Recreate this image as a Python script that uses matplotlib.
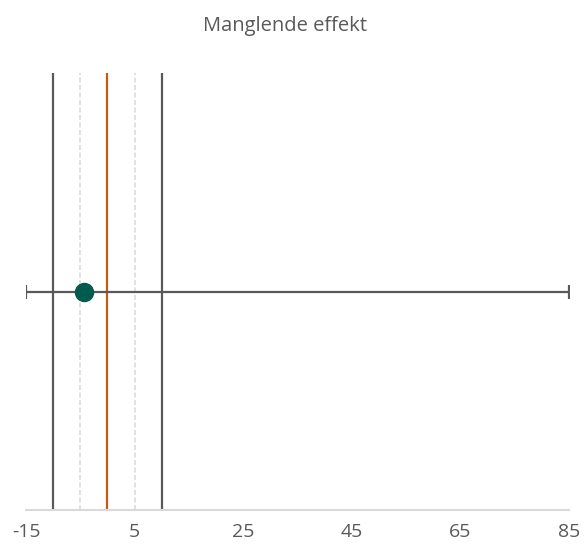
import matplotlib.pyplot as plt

title = "Manglende effekt"
estimate = -4.4
ci_low, ci_high = -15, 85
solid_lines = [-10, 10]
dashed_lines = [-5, 5]
ref_line = 0
xticks = [-15, 5, 25, 45, 65, 85]

plt.rcParams['font.family'] = ['Open Sans', 'DejaVu Sans']

fig = plt.figure(figsize=(5.85, 5.49), dpi=100)
ax = fig.add_axes([0.0445, 0.071, 0.928, 0.796])

for v in solid_lines:
    ax.axvline(v, color='#595959', lw=1.6, zorder=2)
for v in dashed_lines:
    ax.axvline(v, color='#dcdcdc', lw=1.2, ls=(0, (3, 1.5)), zorder=1)
ax.axvline(ref_line, color='#c55a11', lw=1.6, zorder=2)

ax.errorbar([estimate], [0.5], xerr=[[estimate - ci_low], [ci_high - estimate]],
            fmt='o', color='#005a4e', ms=13, mec='#005a4e', ecolor='#595959',
            elinewidth=1.6, capsize=5, capthick=1.6, zorder=3)

ax.set_xlim(-15, 85)
ax.set_ylim(0, 1)
ax.set_xticks(xticks)
ax.set_xticklabels([str(t) for t in xticks])
ax.set_yticks([])
ax.tick_params(axis='x', length=0, pad=9, labelsize=14, labelcolor='#595959')
for s in ['top', 'right', 'left']:
    ax.spines[s].set_visible(False)
ax.spines['bottom'].set_color('#d9d9d9')
ax.spines['bottom'].set_linewidth(1.5)

fig.text(0.487, 0.953, title, ha='center', va='center', fontsize=14.5, color='#595959')

fig.savefig('out.png', dpi=100)
